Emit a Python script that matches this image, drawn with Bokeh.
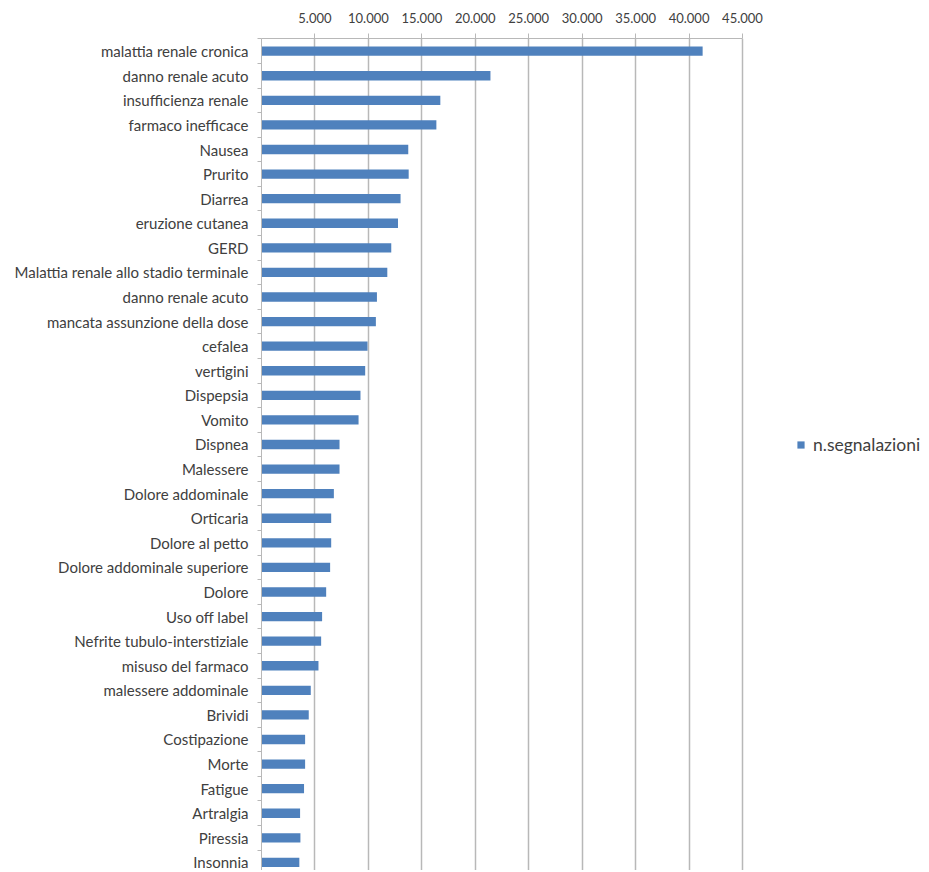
from bokeh.plotting import figure
from bokeh.models import FixedTicker, Range1d, Legend, LegendItem, ColumnDataSource
from bokeh.embed import file_html
from bokeh.resources import INLINE

categories = [
    "malattia renale cronica", "danno renale acuto", "insufficienza renale",
    "farmaco inefficace", "Nausea", "Prurito", "Diarrea", "eruzione cutanea",
    "GERD", "Malattia renale allo stadio terminale", "danno renale acuto",
    "mancata assunzione della dose", "cefalea", "vertigini", "Dispepsia",
    "Vomito", "Dispnea", "Malessere", "Dolore addominale", "Orticaria",
    "Dolore al petto", "Dolore addominale superiore", "Dolore", "Uso off label",
    "Nefrite tubulo-interstiziale", "misuso del farmaco", "malessere addominale",
    "Brividi", "Costipazione", "Morte", "Fatigue", "Artralgia", "Piressia",
    "Insonnia",
]
segnalazioni = [
    41270, 21420, 16730, 16360, 13730, 13770, 13010, 12770,
    12140, 11770, 10800, 10700, 9920, 9700, 9260, 9080,
    7300, 7300, 6770, 6520, 6520, 6420, 6050, 5670,
    5580, 5330, 4610, 4420, 4080, 4080, 3980, 3610, 3640, 3540,
]
series_name = "n.segnalazioni"
x_ticks = [5000, 10000, 15000, 20000, 25000, 30000, 35000, 40000, 45000]
x_tick_labels = ["5.000", "10.000", "15.000", "20.000", "25.000",
                 "30.000", "35.000", "40.000", "45.000"]
x_axis_max = 45000

positions = list(range(len(categories)))
source = ColumnDataSource(data=dict(y=positions, v=segnalazioni, cat=categories))

FONT = "Lato"
TXT = "#404040"
GRID = "#b8b8b8"

W, H = 925, 870
LEFT, TOP = 261, 38
AXIS_PX = 481                      # pixels from 0 to 45.000
frame_w = W - LEFT
x_end = x_axis_max * frame_w / AXIS_PX   # room on the right for the legend

p = figure(width=W, height=H, output_backend="svg", toolbar_location=None,
           x_axis_location="above",
           x_range=Range1d(0, x_end),
           y_range=Range1d(33.33, -0.516),
           min_border_left=LEFT, min_border_right=0,
           min_border_top=TOP, min_border_bottom=0)
p.outline_line_color = None
p.background_fill_color = "white"
p.border_fill_color = "white"

r = p.hbar(y="y", right="v", left=0, height=0.38, source=source,
           fill_color="#4F81BD", line_color=None)

# x axis (top)
xa = p.xaxis[0]
xa.bounds = (0, x_axis_max)
xa.ticker = FixedTicker(ticks=x_ticks)
xa.major_label_overrides = {t: l for t, l in zip(x_ticks, x_tick_labels)}
xa.axis_line_color = GRID
xa.major_tick_line_color = GRID
xa.major_tick_out = 5
xa.major_tick_in = 0
xa.minor_tick_line_color = None
xa.major_label_standoff = 11
xa.major_label_text_font = FONT
xa.major_label_text_font_size = "13px"
xa.major_label_text_color = TXT

# y axis (categories)
ya = p.yaxis[0]
ya.ticker = FixedTicker(ticks=positions,
                        minor_ticks=[i - 0.5 for i in range(len(categories) + 1)])
ya.major_label_overrides = {i: c for i, c in zip(positions, categories)}
ya.axis_line_color = GRID
ya.major_tick_line_color = None
ya.major_tick_out = 0
ya.major_tick_in = 0
ya.minor_tick_line_color = GRID
ya.minor_tick_out = 4
ya.minor_tick_in = 0
ya.major_label_standoff = 9
ya.major_label_text_font = FONT
ya.major_label_text_font_size = "15px"
ya.major_label_text_color = TXT

p.xgrid.grid_line_color = GRID
p.xgrid.grid_line_width = 1.5
p.xgrid.bounds = (0, x_axis_max)
p.ygrid.grid_line_color = None

legend = Legend(items=[LegendItem(label=series_name, renderers=[r])],
                location=(535, 415), border_line_color=None,
                background_fill_alpha=0, glyph_width=9, glyph_height=9,
                label_standoff=8, margin=0, padding=0,
                label_text_font=FONT, label_text_font_size="17.5px",
                label_text_color=TXT)
p.add_layout(legend, "center")

open("out.html", "w").write(file_html(p, INLINE))
